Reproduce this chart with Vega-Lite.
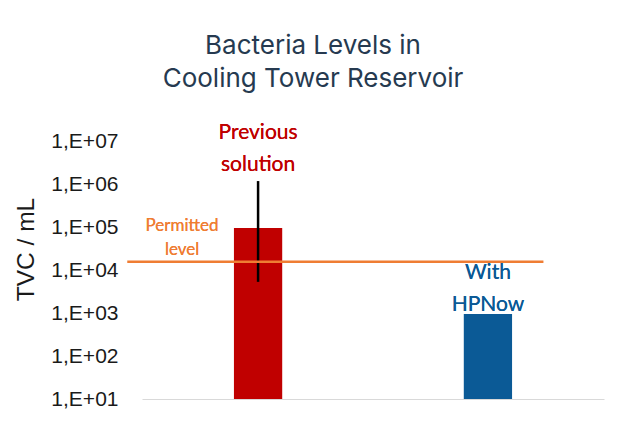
{
  "$schema": "https://vega.github.io/schema/vega-lite/v6.json",
  "width": 462,
  "height": 258,
  "autosize": {"type": "none"},
  "padding": {"left": 142, "top": 141, "right": 29, "bottom": 27},
  "background": "white",
  "config": {"view": {"stroke": null}, "font": "Lato"},
  "title": {
    "text": ["Bacteria Levels in", "Cooling Tower Reservoir"],
    "font": "Inter",
    "fontSize": 26,
    "fontWeight": "normal",
    "color": "#263a50",
    "anchor": "middle",
    "dx": -60,
    "offset": 30,
    "lineHeight": 33
  },
  "data": {
    "values": [
      {"group": "Previous solution", "tvc": 95000, "low": 5300, "high": 1170000},
      {"group": "With HPNow", "tvc": 950}
    ]
  },
  "layer": [
    {
      "mark": {"type": "bar"},
      "encoding": {
        "x": {
          "field": "group",
          "type": "nominal",
          "scale": {"paddingInner": 0.79, "paddingOuter": 0.4},
          "axis": {"labels": false, "ticks": false, "title": null, "domainColor": "#d9d9d9", "domainWidth": 1}
        },
        "y": {
          "field": "tvc",
          "type": "quantitative",
          "scale": {"type": "log", "domain": [10, 10000000]},
          "axis": {
            "values": [10, 100, 1000, 10000, 100000, 1000000, 10000000],
            "labelExpr": "'1,E+0' + round(log(datum.value)/LN10)",
            "domain": false,
            "ticks": false,
            "grid": false,
            "labelFont": "Liberation Sans",
            "labelFontSize": 21,
            "labelColor": "#1a1a1a",
            "labelPadding": 24,
            "title": "TVC / mL",
            "titleFont": "Liberation Sans",
            "titleFontSize": 24.5,
            "titleFontWeight": "normal",
            "titleColor": "#1a1a1a",
            "titlePadding": 12,
            "titleY": 108
          }
        },
        "y2": {"datum": 10},
        "color": {"field": "group", "type": "nominal", "scale": {"range": ["#c00000", "#0b5a96"]}, "legend": null}
      }
    },
    {
      "transform": [{"filter": "isValid(datum.low)"}],
      "mark": {"type": "rule", "color": "black", "strokeWidth": 2.5},
      "encoding": {
        "x": {"field": "group", "type": "nominal"},
        "y": {"field": "low", "type": "quantitative"},
        "y2": {"field": "high"}
      }
    },
    {
      "data": {"values": [{"level": "Permitted level", "limit": 15500}]},
      "mark": {"type": "rule", "color": "#ef7d33", "strokeWidth": 2.5, "clip": false},
      "encoding": {
        "x": {"datum": "Previous solution", "bandPosition": -2.21},
        "x2": {"datum": "With HPNow", "bandPosition": 1.65},
        "y": {"field": "limit", "type": "quantitative"}
      }
    },
    {
      "mark": {"type": "text", "text": ["Previous", "solution"], "color": "#c00000", "fontSize": 21, "lineHeight": 32, "baseline": "middle", "font": "Lato"},
      "encoding": {
        "x": {"datum": "Previous solution"},
        "y": {"datum": 15400000}
      }
    },
    {
      "mark": {"type": "text", "text": ["With", "HPNow"], "color": "#0b5a96", "fontSize": 21, "lineHeight": 32, "baseline": "middle", "font": "Lato"},
      "encoding": {
        "x": {"datum": "With HPNow"},
        "y": {"datum": 8500}
      }
    },
    {
      "mark": {"type": "text", "text": ["Permitted", "level"], "color": "#ef7d33", "fontSize": 17, "lineHeight": 24, "baseline": "middle", "dx": -76, "font": "Lato"},
      "encoding": {
        "x": {"datum": "Previous solution"},
        "y": {"datum": 105000}
      }
    }
  ]
}
